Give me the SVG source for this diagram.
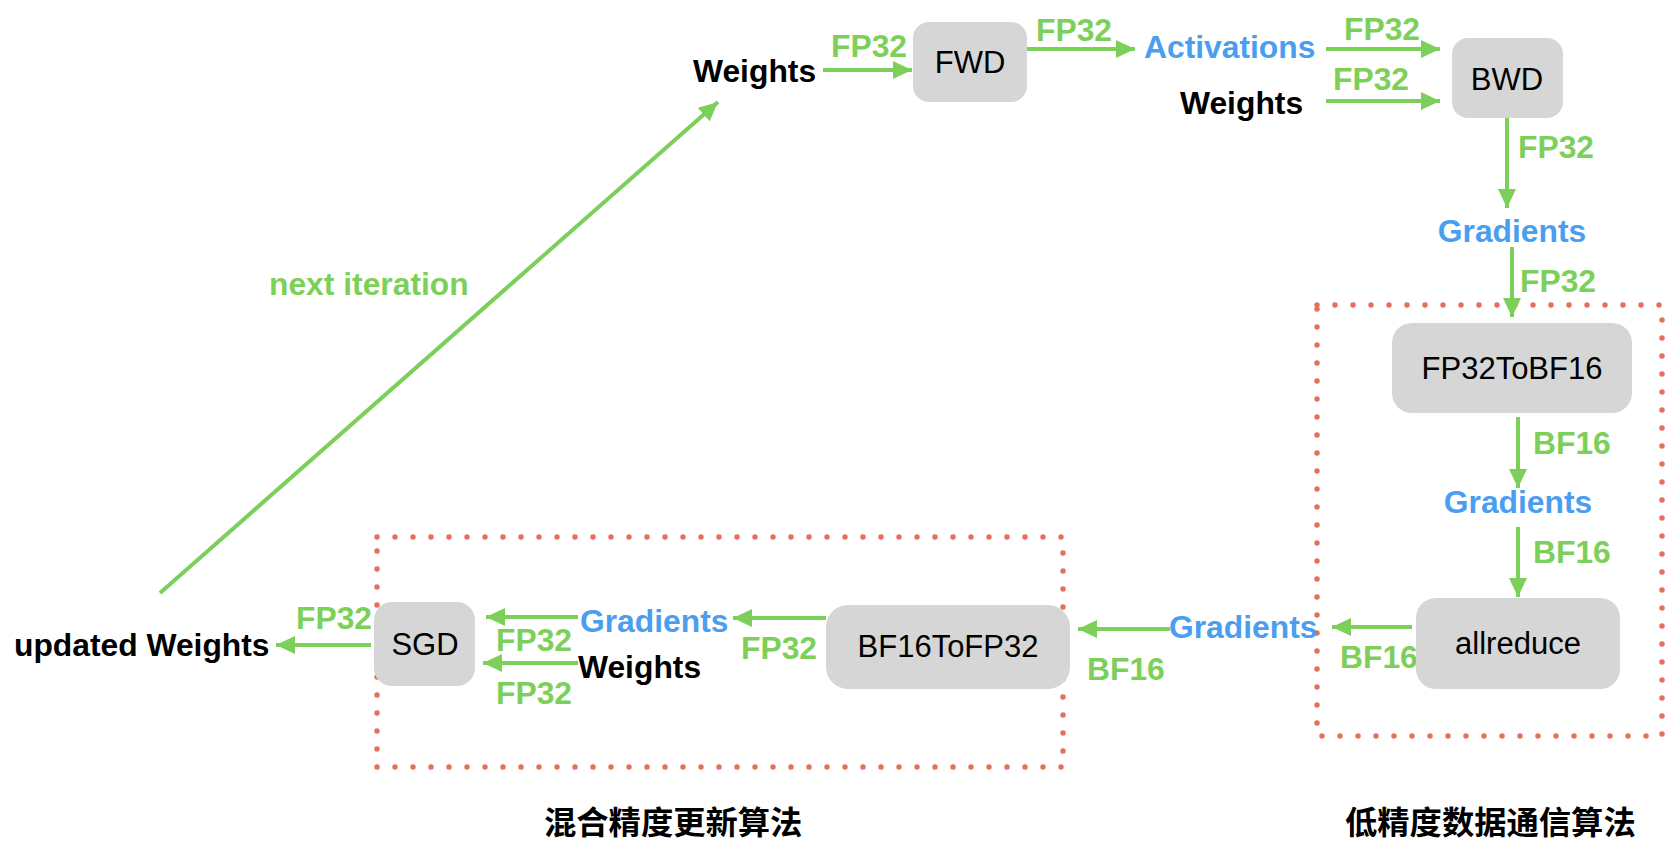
<svg xmlns="http://www.w3.org/2000/svg" width="1676" height="858" viewBox="0 0 1676 858">
<style>
.lb{font-family:"Liberation Sans",Arial,sans-serif;font-weight:bold;font-size:31.8px}
.g{fill:#7CD05A}
.b{fill:#4A9EF0}
.k{fill:#000}
.bx{fill:#D6D6D6}
.bt{font-family:"Liberation Sans",Arial,sans-serif;font-size:31px;fill:#000;text-anchor:middle}
.cn{font-family:"Liberation Sans","Noto Sans CJK SC",sans-serif;font-weight:bold;font-size:32.3px;fill:#000}
.ln{stroke:#7CD05A;stroke-width:4;fill:none;marker-end:url(#ah)}
.dot{fill:none;stroke:#E8705A;stroke-width:5.5;stroke-linecap:round;stroke-dasharray:0 18}
.m{text-anchor:middle}
</style>
<defs>
<marker id="ah" markerUnits="userSpaceOnUse" markerWidth="20" markerHeight="18" refX="19" refY="9" orient="auto">
<path d="M0,0 L19,9 L0,18 z" fill="#7CD05A"/>
</marker>
</defs>
<g id="regions">
<rect class="dot" x="377" y="537" width="686" height="230"/>
<rect class="dot" x="1317" y="305" width="345" height="431"/>
<text class="cn" x="544" y="834">混合精度更新算法</text>
<text class="cn" x="1345" y="834">低精度数据通信算法</text>
</g>
<g id="connectors">
<line class="ln" x1="823" y1="70" x2="912" y2="70"/>
<line class="ln" x1="1024" y1="49" x2="1135" y2="49"/>
<line class="ln" x1="1326" y1="49" x2="1440" y2="49"/>
<line class="ln" x1="1326" y1="101" x2="1440" y2="101"/>
<line class="ln" x1="1507" y1="118" x2="1507" y2="208"/>
<line class="ln" x1="1512" y1="247" x2="1512" y2="317"/>
<line class="ln" x1="1518" y1="417" x2="1518" y2="488"/>
<line class="ln" x1="1518" y1="527" x2="1518" y2="597"/>
<line class="ln" x1="1412" y1="627" x2="1332" y2="627"/>
<line class="ln" x1="1170" y1="629" x2="1078" y2="629"/>
<line class="ln" x1="826" y1="618" x2="733" y2="618"/>
<line class="ln" x1="578" y1="617" x2="486" y2="617"/>
<line class="ln" x1="578" y1="663" x2="483" y2="663"/>
<line class="ln" x1="371" y1="645" x2="276" y2="645"/>
<line class="ln" x1="160" y1="593" x2="718" y2="102"/>
<text class="lb g m" x="869" y="57">FP32</text>
<text class="lb g m" x="1074" y="41">FP32</text>
<text class="lb g m" x="1382" y="40">FP32</text>
<text class="lb g m" x="1371" y="90">FP32</text>
<text class="lb g" x="1518" y="158">FP32</text>
<text class="lb g" x="1520" y="292">FP32</text>
<text class="lb g" x="1533" y="454">BF16</text>
<text class="lb g" x="1533" y="563">BF16</text>
<text class="lb g" x="1340" y="668">BF16</text>
<text class="lb g" x="1087" y="680">BF16</text>
<text class="lb g m" x="779" y="659">FP32</text>
<text class="lb g m" x="534" y="651">FP32</text>
<text class="lb g m" x="534" y="704">FP32</text>
<text class="lb g m" x="334" y="629">FP32</text>
<text class="lb g" x="269" y="295">next iteration</text>
</g>
<g id="weights-in"><text class="lb k" x="693" y="82">Weights</text></g>
<g id="fwd"><rect class="bx" x="913" y="22" width="114" height="80" rx="16"/><text class="bt" x="970" y="73">FWD</text></g>
<g id="activations"><text class="lb b" x="1144" y="58">Activations</text></g>
<g id="weights-bwd"><text class="lb k" x="1180" y="114">Weights</text></g>
<g id="bwd"><rect class="bx" x="1452" y="38" width="111" height="80" rx="16"/><text class="bt" x="1507" y="90">BWD</text></g>
<g id="gradients-1"><text class="lb b m" x="1512" y="242">Gradients</text></g>
<g id="fp32tobf16"><rect class="bx" x="1392" y="323" width="240" height="90" rx="20"/><text class="bt" x="1512" y="379">FP32ToBF16</text></g>
<g id="gradients-2"><text class="lb b m" x="1518" y="513">Gradients</text></g>
<g id="allreduce"><rect class="bx" x="1416" y="598" width="204" height="91" rx="20"/><text class="bt" x="1518" y="654">allreduce</text></g>
<g id="gradients-3"><text class="lb b" x="1169" y="638">Gradients</text></g>
<g id="bf16tofp32"><rect class="bx" x="826" y="605" width="244" height="84" rx="22"/><text class="bt" x="948" y="657">BF16ToFP32</text></g>
<g id="gradients-4"><text class="lb b" x="580" y="632">Gradients</text></g>
<g id="weights-sgd"><text class="lb k" x="578" y="678">Weights</text></g>
<g id="sgd"><rect class="bx" x="374" y="602" width="101" height="84" rx="18"/><text class="bt" x="425" y="655">SGD</text></g>
<g id="updated-weights"><text class="lb k" x="14" y="656">updated Weights</text></g>
</svg>
